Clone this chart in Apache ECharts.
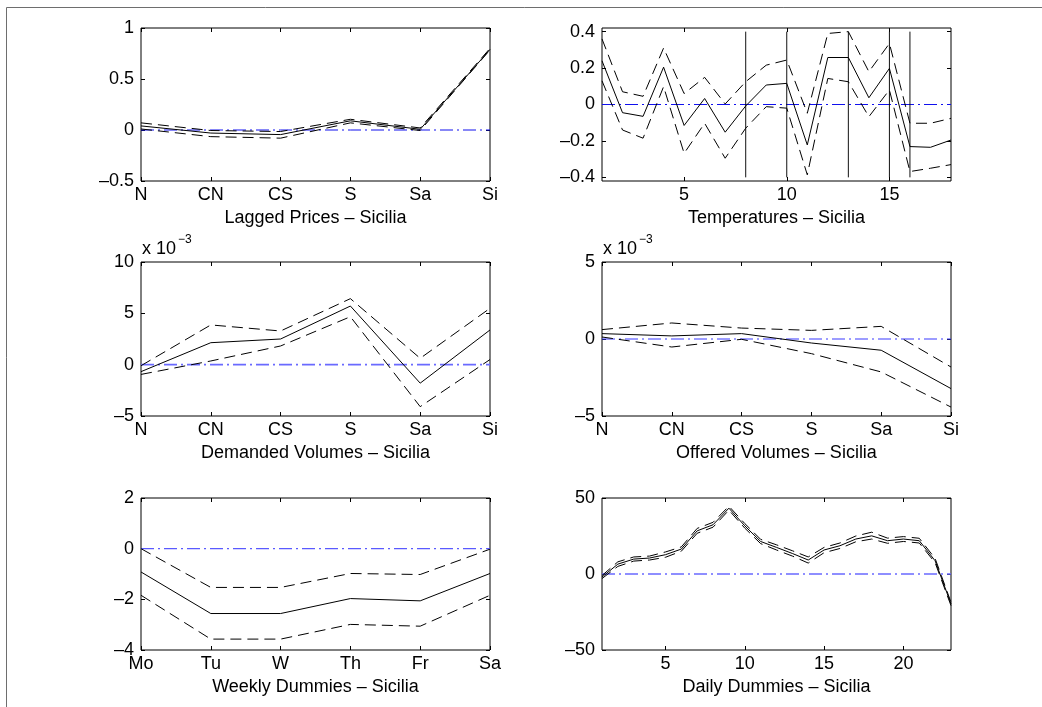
<!DOCTYPE html>
<html>
<head>
<meta charset="utf-8">
<script src="https://cdn.jsdelivr.net/npm/echarts@6/dist/echarts.min.js"></script>
<style>
html,body{margin:0;padding:0;background:#fff;}
#chart{width:1042px;height:707px;}
</style>
</head>
<body>
<div id="chart"></div>
<script>
// ---- categories / tick labels ----
const regions = ['N', 'CN', 'CS', 'S', 'Sa', 'Si'];
const weekdays = ['Mo', 'Tu', 'W', 'Th', 'Fr', 'Sa'];
const tempHours = [1, 2, 3, 4, 5, 6, 7, 8, 9, 10, 11, 12, 13, 14, 15, 16, 17, 18];
const dailyHours = [1, 2, 3, 4, 5, 6, 7, 8, 9, 10, 11, 12, 13, 14, 15, 16, 17, 18, 19, 20, 21, 22, 23];
const tempTicks = [5, 10, 15];
const tempYTicks = [-0.4, -0.2, 0, 0.2, 0.4];
const dailyTicks = [5, 10, 15, 20];
const tempBreaks = [8, 10, 13, 15, 16];
const tempBreakRange = [-0.4, 0.4];

// ---- series values ----
const laggedMid = [0.04, -0.03, -0.045, 0.09, 0.007, 0.79];
const laggedUp = [0.07, -0.005, -0.015, 0.105, 0.02, 0.80];
const laggedLo = [0.01, -0.065, -0.08, 0.07, -0.005, 0.785];

const tempMid = [0.24, -0.045, -0.065, 0.205, -0.115, 0.033, -0.152, -0.008, 0.107, 0.116, -0.222, 0.258, 0.258, 0.037, 0.198, -0.231, -0.235, -0.195];
const tempUp = [0.36, 0.07, 0.045, 0.31, 0.06, 0.149, 0.003, 0.125, 0.216, 0.244, -0.048, 0.39, 0.40, 0.18, 0.335, -0.103, -0.103, -0.076];
const tempLo = [0.13, -0.14, -0.185, 0.098, -0.268, -0.103, -0.295, -0.13, -0.012, -0.02, -0.386, 0.143, 0.125, -0.067, 0.08, -0.368, -0.35, -0.33];

// volumes in units of 10^-3
const demMid = [-0.68, 2.14, 2.5, 5.71, -1.8, 3.38];
const demUp = [-0.1, 3.87, 3.28, 6.43, 0.62, 5.49];
const demLo = [-0.95, 0.36, 1.82, 4.67, -4.09, 0.5];

const offMid = [0.35, 0.2, 0.35, -0.26, -0.73, -3.22];
const offUp = [0.61, 1.04, 0.71, 0.56, 0.82, -1.82];
const offLo = [0.13, -0.52, -0.02, -0.95, -2.14, -4.42];

const weekMid = [-0.92, -2.56, -2.56, -1.97, -2.06, -0.98];
const weekUp = [0.0, -1.53, -1.53, -0.98, -1.02, -0.02];
const weekLo = [-1.84, -3.57, -3.57, -2.99, -3.06, -1.84];

const dailyMid = [-2, 6.5, 9.8, 10.5, 12.7, 16.4, 28.4, 32.4, 43.3, 31.7, 21.4, 17.5, 13.5, 9.2, 15.8, 18.6, 23, 25.1, 21.9, 23, 21.9, 8.7, -19.7];
const dailyUp = [-1, 8, 11.2, 11.8, 14.5, 17.8, 30, 34, 44.6, 33.2, 22.8, 19.2, 15.3, 11.2, 17.5, 20.4, 25, 27.5, 23.6, 24.6, 23.5, 10.2, -18.6];
const dailyLo = [-3, 5, 8.5, 9.2, 11, 15, 26.8, 30.8, 42, 30.2, 20, 15.8, 11.8, 7.2, 14, 16.8, 21.2, 23, 20.2, 21.4, 20.4, 7.4, -20.8];

const FONT = 'Liberation Sans, Arial, Helvetica, sans-serif';
const FS = 18;
const fmt = v => String(v).replace('-', '\u2013');

const panels = [
  { grid: {left: 141, top: 28, width: 349, height: 153},
    x: {type: 'category', data: regions},
    y: {min: -0.5, max: 1, interval: 0.5},
    mid: laggedMid, up: laggedUp, lo: laggedLo,
    name: 'Lagged Prices \u2013 Sicilia', zero: {color: '#1010ee', width: 1} },
  { grid: {left: 602, top: 28, width: 349, height: 153},
    x: {type: 'value', data: tempHours, min: 1, max: 18, ticks: tempTicks},
    y: {min: -0.42, max: 0.42, ticks: tempYTicks},
    mid: tempMid, up: tempUp, lo: tempLo, breaks: tempBreaks,
    name: 'Temperatures \u2013 Sicilia', zero: {color: '#1010ee', width: 1} },
  { grid: {left: 141, top: 262, width: 349, height: 154},
    x: {type: 'category', data: regions},
    y: {min: -5, max: 10, interval: 5},
    mid: demMid, up: demUp, lo: demLo,
    name: 'Demanded Volumes \u2013 Sicilia', zero: {color: '#6a6aff', width: 1.6}, exp: true },
  { grid: {left: 602, top: 262, width: 349, height: 154},
    x: {type: 'category', data: regions},
    y: {min: -5, max: 5, interval: 5},
    mid: offMid, up: offUp, lo: offLo,
    name: 'Offered Volumes \u2013 Sicilia', zero: {color: '#3a3aff', width: 1.2}, exp: true },
  { grid: {left: 141, top: 498, width: 349, height: 152},
    x: {type: 'category', data: weekdays},
    y: {min: -4, max: 2, interval: 2},
    mid: weekMid, up: weekUp, lo: weekLo,
    name: 'Weekly Dummies \u2013 Sicilia', zero: {color: '#5a5aff', width: 1.4} },
  { grid: {left: 602, top: 498, width: 349, height: 152},
    x: {type: 'value', data: dailyHours, min: 1, max: 23, ticks: dailyTicks},
    y: {min: -50, max: 50, interval: 50},
    mid: dailyMid, up: dailyUp, lo: dailyLo,
    name: 'Daily Dummies \u2013 Sicilia', zero: {color: '#6a6aff', width: 1.6} }
];

const grids = [], xAxes = [], yAxes = [], series = [], graphics = [];

graphics.push({type: 'rect', shape: {x: 6.5, y: 7.5, width: 1200, height: 900},
  style: {fill: null, stroke: '#6e6e6e', lineWidth: 1}, silent: true});

panels.forEach((p, gi) => {
  grids.push(Object.assign({show: true, borderColor: '#000', borderWidth: 1, backgroundColor: '#fff'}, p.grid));
  [false, true].forEach(mirror => {
    const ax = {
      gridIndex: gi, position: mirror ? 'top' : 'bottom',
      axisLine: {show: false, onZero: false}, splitLine: {show: false},
      axisTick: {show: true, inside: true, length: 4, lineStyle: {color: '#000', width: 1}},
      axisLabel: {show: !mirror, color: '#000', fontSize: FS, fontFamily: FONT, margin: 5}
    };
    if (p.x.type === 'category') {
      Object.assign(ax, {type: 'category', data: p.x.data, boundaryGap: false});
      ax.axisTick.interval = 0; ax.axisLabel.interval = 0;
    } else {
      Object.assign(ax, {type: 'value', min: p.x.min, max: p.x.max});
      ax.axisTick.customValues = p.x.ticks;
      ax.axisLabel.customValues = p.x.ticks;
    }
    if (!mirror) {
      ax.name = p.name; ax.nameLocation = 'middle'; ax.nameGap = 28;
      ax.nameTextStyle = {color: '#000', fontSize: FS, fontFamily: FONT};
    }
    xAxes.push(ax);

    const ay = {
      gridIndex: gi, type: 'value', position: mirror ? 'right' : 'left',
      min: p.y.min, max: p.y.max,
      axisLine: {show: false, onZero: false}, splitLine: {show: false},
      axisTick: {show: true, inside: true, length: 4, lineStyle: {color: '#000', width: 1}},
      axisLabel: {show: !mirror, color: '#000', fontSize: FS, fontFamily: FONT, margin: 7, formatter: fmt}
    };
    if (p.y.ticks) {
      ay.axisTick.customValues = p.y.ticks;
      ay.axisLabel.customValues = p.y.ticks;
    } else {
      ay.interval = p.y.interval;
    }
    yAxes.push(ay);
  });

  const xi = gi * 2, yi = gi * 2;
  const pts = vals => p.x.type === 'category' ? vals : vals.map((v, i) => [p.x.data[i], v]);
  const zeroData = p.x.type === 'category'
    ? p.x.data.map(() => 0)
    : [[p.x.min, 0], [p.x.max, 0]];
  series.push({type: 'line', xAxisIndex: xi, yAxisIndex: yi, data: zeroData, symbol: 'none',
    silent: true, z: 1,
    lineStyle: {color: p.zero.color, width: p.zero.width, type: [13, 4, 2, 4]}});
  if (p.breaks) {
    p.breaks.forEach(b => {
      series.push({type: 'line', xAxisIndex: xi, yAxisIndex: yi,
        data: tempBreakRange.map(v => [b, v]), symbol: 'none', silent: true, z: 2,
        lineStyle: {color: '#111', width: 1}});
    });
  }
  [[p.up, 'dashed'], [p.lo, 'dashed'], [p.mid, 'solid']].forEach(([vals, t]) => {
    series.push({type: 'line', xAxisIndex: xi, yAxisIndex: yi, data: pts(vals), symbol: 'none',
      silent: true, z: 3,
      lineStyle: {color: '#000', width: 1, type: t === 'dashed' ? [11, 6] : 'solid'}});
  });

  if (p.exp) {
    const gx = p.grid.left + 1, gy = p.grid.top - 22;
    graphics.push({type: 'text', x: gx, y: gy, silent: true,
      style: {text: 'x 10', fontSize: FS, fontFamily: FONT, fill: '#000', textVerticalAlign: 'top'}});
    graphics.push({type: 'text', x: gx + 36, y: gy - 6, silent: true,
      style: {text: '\u22123', fontSize: 12, fontFamily: FONT, fill: '#000', textVerticalAlign: 'top'}});
  }
});

const chart = echarts.init(document.getElementById('chart'), null, {renderer: 'canvas'});
chart.setOption({
  animation: false,
  backgroundColor: '#fff',
  grid: grids,
  xAxis: xAxes,
  yAxis: yAxes,
  series: series,
  graphic: graphics
});
</script>
</body>
</html>
